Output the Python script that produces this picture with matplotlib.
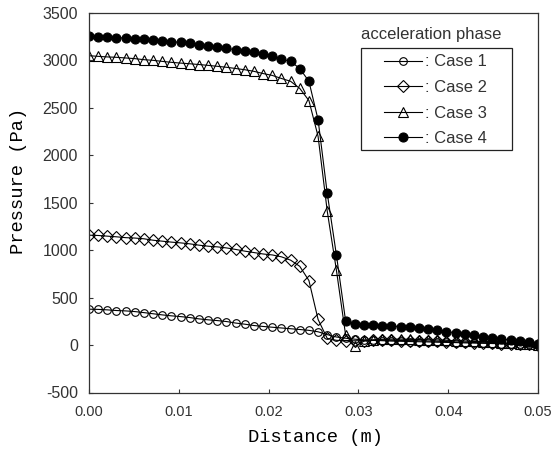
import matplotlib
matplotlib.use("Agg")
import matplotlib.pyplot as plt
from matplotlib.patches import Rectangle

plt.rcParams['axes.unicode_minus'] = False

# Data
distance = [0.00000, 0.00102, 0.00204, 0.00306, 0.00408, 0.00510, 0.00612, 0.00714,
            0.00816, 0.00918, 0.01020, 0.01122, 0.01224, 0.01327, 0.01429, 0.01531,
            0.01633, 0.01735, 0.01837, 0.01939, 0.02041, 0.02143, 0.02245, 0.02347,
            0.02449, 0.02551, 0.02653, 0.02755, 0.02857, 0.02959, 0.03061, 0.03163,
            0.03265, 0.03367, 0.03469, 0.03571, 0.03673, 0.03776, 0.03878, 0.03980,
            0.04082, 0.04184, 0.04286, 0.04388, 0.04490, 0.04592, 0.04694, 0.04796,
            0.04898, 0.05000]

case1 = [378, 376, 371, 364, 360, 353, 342, 330, 318, 308, 300, 290, 276, 266, 258, 248,
         232, 220, 206, 196, 188, 180, 172, 164, 155, 140, 110, 85, 72, 62, 55, 50,
         46, 42, 40, 37, 35, 33, 30, 28, 26, 23, 21, 19, 16, 14, 11, 9, 6, 3]

case2 = [1158, 1155, 1148, 1141, 1132, 1128, 1120, 1105, 1095, 1085, 1077, 1067, 1053,
         1042, 1035, 1024, 1008, 990, 975, 960, 950, 930, 895, 830, 680, 270, 70, 50,
         45, 45, 48, 50, 50, 50, 48, 47, 45, 42, 40, 37, 33, 30, 27, 23, 20, 16, 12, 9, 6, 3]

case3 = [3050, 3043, 3037, 3033, 3026, 3019, 3008, 3001, 2990, 2980, 2972, 2965, 2957,
         2948, 2938, 2928, 2915, 2902, 2885, 2862, 2842, 2810, 2780, 2705, 2577, 2200,
         1412, 790, 110, -15, 40, 55, 60, 62, 62, 60, 58, 56, 53, 50, 46, 42, 38, 33, 28,
         23, 18, 14, 10, 5]

case4 = [3255, 3250, 3246, 3240, 3236, 3229, 3222, 3214, 3207, 3198, 3190, 3180, 3165,
         3150, 3138, 3126, 3114, 3102, 3090, 3072, 3050, 3015, 2990, 2915, 2780, 2375,
         1600, 950, 258, 219, 215, 212, 205, 201, 194, 187, 177, 166, 156, 141, 130, 120,
         106, 88, 77, 64, 53, 39, 29, 10]

labels = [": Case 1", ": Case 2", ": Case 3", ": Case 4"]
legend_title = "acceleration phase"
x_label = "Distance (m)"
y_label = "Pressure (Pa)"
x_ticks = [0.00, 0.01, 0.02, 0.03, 0.04, 0.05]
y_ticks = [-500, 0, 500, 1000, 1500, 2000, 2500, 3000, 3500]

W, H = 552, 455
fig = plt.figure(figsize=(W / 100, H / 100), dpi=100)
ax = fig.add_axes([89 / W, 1 - 392.5 / H, 449 / W, 379.5 / H])

styles = [
    dict(marker='o', markersize=5.5, markerfacecolor='none'),
    dict(marker='D', markersize=6, markerfacecolor='none'),
    dict(marker='^', markersize=7, markerfacecolor='none'),
    dict(marker='o', markersize=6.5, markerfacecolor='black'),
]
series = [case1, case2, case3, case4]
handles = []
for ys, st, lab in zip(series, styles, labels):
    h, = ax.plot(distance, ys, color='black', lw=0.8, markeredgecolor='black',
                 markeredgewidth=0.8, label=lab, **st)
    handles.append(h)

ax.set_xlim(0, 0.05)
ax.set_ylim(-500, 3500)
ax.set_xticks(x_ticks)
ax.set_xticklabels([f"{v:.2f}" for v in x_ticks])
ax.set_yticks(y_ticks)
ax.set_yticklabels([str(v) for v in y_ticks])
ax.tick_params(direction='in', length=3, width=0.8, colors='#333333',
               labelcolor='#333333')
ax.tick_params(axis='y', pad=8, labelsize=11.5)
ax.tick_params(axis='x', pad=9, labelsize=10.5)
for lbl in ax.get_xticklabels() + ax.get_yticklabels():
    lbl.set_family('Liberation Sans')
for sp in ax.spines.values():
    sp.set_color('#333333')
    sp.set_linewidth(0.9)

fig.text(315 / W, 1 - 437 / H, x_label, ha='center', va='center',
         family='Liberation Mono', fontsize=13.5, color='black')
fig.text(19 / W, 1 - 181 / H, y_label, ha='center', va='center', rotation=90,
         family='Liberation Mono', fontsize=13.5, color='black')

# legend box drawn separately so its padding matches the reference
box_l, box_t, box_r, box_b = 360.7, 48.3, 511.7, 150.0
fig.patches.append(Rectangle((box_l / W, 1 - box_b / H), (box_r - box_l) / W,
                             (box_b - box_t) / H, transform=fig.transFigure,
                             fill=False, edgecolor='#222222', lw=0.9, zorder=5))

leg = fig.legend(handles=handles, loc='upper left',
                 bbox_to_anchor=(384 / W, 1 - 54.5 / H),
                 bbox_transform=fig.transFigure,
                 frameon=False,
                 prop={'family': 'Liberation Sans', 'size': 12},
                 handlelength=2.3, handletextpad=0.15, labelspacing=0.63,
                 borderpad=0, borderaxespad=0)
for t in leg.get_texts():
    t.set_color('#333333')

fig.text(431 / W, 1 - 35 / H, legend_title, ha='center', va='center',
         family='Liberation Sans', fontsize=12, color='#333333')

fig.savefig("out.png", dpi=100)
